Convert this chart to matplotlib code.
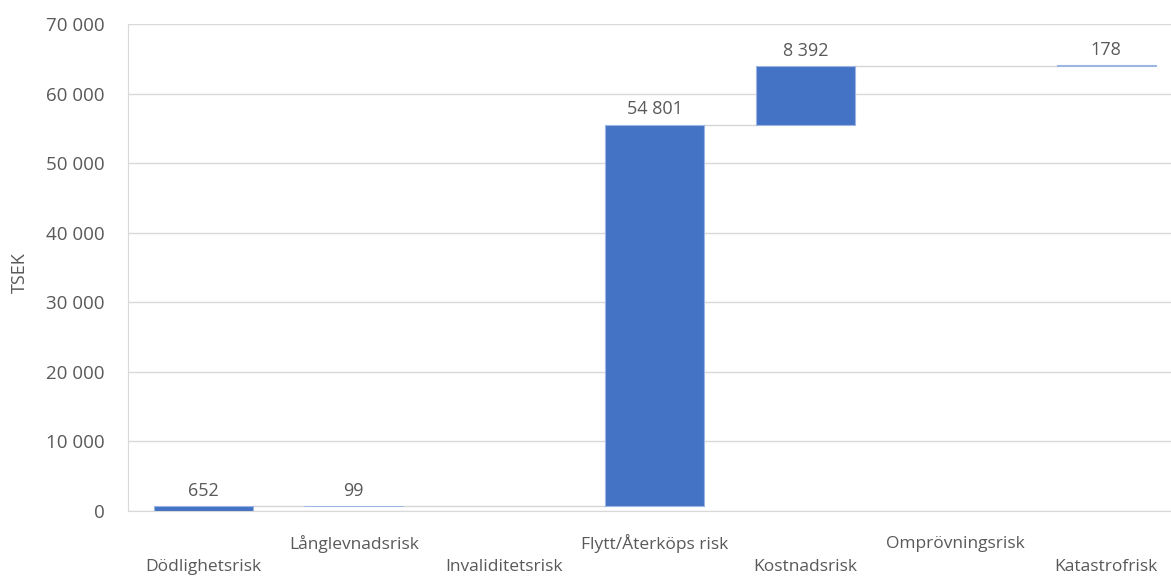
import matplotlib.pyplot as plt
import numpy as np

categories = ["Dödlighetsrisk", "Långlevnadsrisk", "Invaliditetsrisk",
              "Flytt/Återköps risk", "Kostnadsrisk", "Omprövningsrisk",
              "Katastrofrisk"]
values = [652, 99, 0, 54801, 8392, 0, 178]
show_label = [True, True, False, True, True, False, True]
yticks = [0, 10000, 20000, 30000, 40000, 50000, 60000, 70000]

BLUE = "#4472C4"
GREY = "#595959"
GRID = "#D9D9D9"


def fmt(v):
    return "{:,}".format(int(v)).replace(",", " ")


plt.rcParams['font.family'] = ['Open Sans', 'DejaVu Sans']

fig = plt.figure(figsize=(11.71, 5.79), dpi=100)
ax = fig.add_axes([128 / 1171, 1 - 511 / 579, 1 - 128 / 1171, (511 - 24) / 579])

x = np.arange(len(categories))
ends = np.cumsum(values)
starts = ends - np.array(values)
width = 0.66

# zero-valued steps get no outline so only the connector shows there
edges = ["#9DB5E3" if v != 0 else "none" for v in values]
ax.bar(x, values, width, bottom=starts, color=BLUE, edgecolor=edges,
       lw=0.8, zorder=3)

# connector lines between consecutive non-zero bars
nz = [i for i, v in enumerate(values) if v != 0]
for a, b in zip(nz[:-1], nz[1:]):
    ax.plot([x[a] + width / 2, x[b] - width / 2], [ends[a], ends[a]],
            color="#D6D6D6", lw=1, zorder=2)

for i, v in enumerate(values):
    if show_label[i]:
        ax.text(x[i], ends[i] + 900, fmt(v), ha="center", va="bottom",
                fontsize=13, color=GREY)

ax.set_xlim(-0.5, -0.5 + (1171 - 128) / 150.5)
ax.set_ylim(0, 70000)
ax.set_yticks(yticks)
ax.set_yticklabels([fmt(t) for t in yticks], fontsize=13.5, color=GREY)
ax.tick_params(axis="y", length=0, pad=17)
ax.tick_params(axis="x", length=0)
ax.set_xticks([])
ax.yaxis.grid(True, color=GRID, lw=1, zorder=0)
ax.set_axisbelow(True)

for name in ["top", "right"]:
    ax.spines[name].set_visible(False)
ax.spines["left"].set_color(GRID)
ax.spines["bottom"].set_color(GRID)

# staggered category labels below the axis
for i, name in enumerate(categories):
    yoff = -33 if i % 2 == 1 else -56
    ax.annotate(name, (x[i], 0), xytext=(0, yoff), textcoords="offset pixels",
                ha="center", va="center", fontsize=12.5, color=GREY,
                annotation_clip=False)

ax.set_ylabel("TSEK", fontsize=13, color=GREY)
ax.yaxis.set_label_coords(-99 / 1043, 0.49)

fig.savefig("out.png", dpi=100)
